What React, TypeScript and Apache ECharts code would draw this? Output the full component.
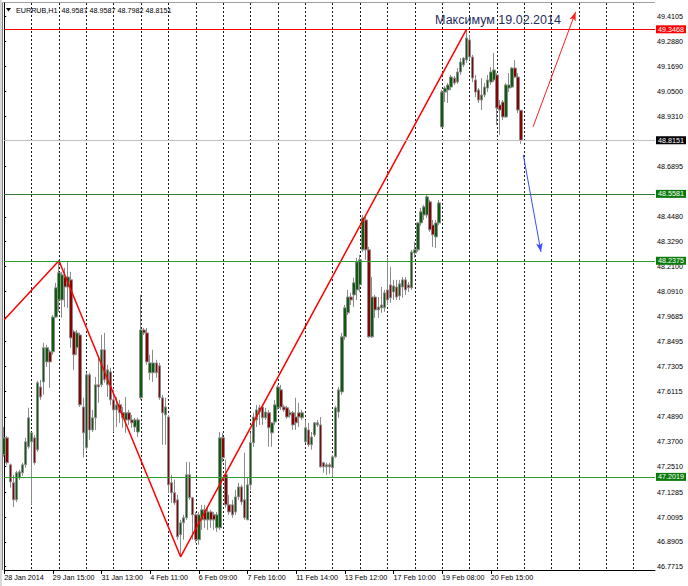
import React, { useEffect, useRef } from 'react';
import * as echarts from 'echarts';

// ---- data ----
const opens = [
  47.308, 47.389, 47.260, 47.174, 47.092, 47.198, 47.222, 47.260, 47.346, 47.370,
  47.389, 47.332, 47.633, 47.657, 47.753, 47.801, 47.801, 47.968, 48.050, 48.050,
  48.160, 48.112, 48.146, 47.897, 47.821, 47.882, 47.537, 47.342, 47.691, 47.427,
  47.485, 47.643, 47.643, 47.811, 47.643, 47.705, 47.571, 47.523, 47.547, 47.509,
  47.475, 47.509, 47.475, 47.441, 47.417, 47.581, 47.906, 47.892, 47.701, 47.701,
  47.748, 47.734, 47.581, 47.499, 47.489, 47.174, 47.126, 47.092, 46.925, 46.982,
  47.006, 47.212, 47.102, 47.020, 46.901, 46.996, 47.044, 46.996, 47.034, 47.020,
  46.958, 46.958, 47.389, 47.212, 47.068, 47.068, 47.034, 47.106, 47.154, 47.092,
  46.996, 47.164, 47.366, 47.475, 47.513, 47.537, 47.485, 47.509, 47.413, 47.465,
  47.533, 47.619, 47.537, 47.533, 47.499, 47.509, 47.489, 47.509, 47.485, 47.370,
  47.427, 47.356, 47.403, 47.451, 47.451, 47.270, 47.250, 47.260, 47.246, 47.298,
  47.513, 47.609, 47.873, 47.988, 48.064, 48.074, 48.098, 48.122, 48.290, 48.433,
  48.290, 47.873, 48.064, 48.002, 48.012, 48.012, 48.098, 48.122, 48.088, 48.112,
  48.069, 48.112, 48.146, 48.122, 48.108, 48.275, 48.290, 48.419, 48.457, 48.457,
  48.520, 48.409, 48.352, 48.419, 48.879, 49.046, 49.056, 49.070, 49.113, 49.094,
  49.142, 49.176, 49.200, 49.296, 49.214, 49.104, 49.056, 49.008, 49.032, 49.065,
  49.094, 49.104, 49.128, 48.984, 48.998, 48.927, 49.065, 49.070, 49.161, 49.118,
  48.9587,
];
const closes = [
  47.389, 47.270, 47.178, 47.092, 47.222, 47.226, 47.260, 47.370, 47.485, 47.413,
  47.270, 47.653, 47.585, 47.821, 47.821, 47.753, 47.968, 48.108, 48.180, 48.170,
  48.112, 48.160, 47.868, 47.787, 47.892, 47.547, 47.413, 47.691, 47.427, 47.485,
  47.643, 47.633, 47.811, 47.667, 47.715, 47.571, 47.523, 47.547, 47.509, 47.485,
  47.509, 47.475, 47.461, 47.475, 47.475, 47.906, 47.892, 47.753, 47.748, 47.748,
  47.701, 47.581, 47.509, 47.537, 47.164, 47.126, 47.078, 46.915, 46.982, 47.006,
  47.212, 47.102, 47.020, 46.901, 47.020, 47.044, 46.996, 47.034, 46.996, 46.996,
  47.020, 47.389, 47.294, 47.068, 47.034, 47.020, 47.106, 47.154, 47.082, 47.006,
  47.164, 47.366, 47.489, 47.523, 47.533, 47.485, 47.513, 47.437, 47.461, 47.547,
  47.633, 47.537, 47.523, 47.489, 47.509, 47.451, 47.461, 47.489, 47.509, 47.437,
  47.356, 47.393, 47.461, 47.461, 47.250, 47.250, 47.260, 47.250, 47.298, 47.533,
  47.619, 47.873, 48.012, 48.064, 48.050, 48.132, 48.232, 48.242, 48.443, 48.290,
  47.873, 48.064, 48.002, 48.016, 48.026, 48.084, 48.050, 48.060, 48.117, 48.064,
  48.127, 48.146, 48.098, 48.108, 48.280, 48.290, 48.419, 48.472, 48.496, 48.544,
  48.386, 48.362, 48.419, 48.515, 49.046, 49.065, 49.080, 49.118, 49.089, 49.142,
  49.190, 49.209, 49.305, 49.214, 49.113, 49.046, 49.008, 49.032, 49.070, 49.104,
  49.142, 49.152, 48.970, 48.960, 48.927, 49.080, 49.080, 49.161, 49.118, 48.960,
  48.8151,
];
const lows = [
  47.298, 47.260, 47.150, 47.058, 47.082, 47.188, 47.207, 47.246, 47.337, 47.068,
  47.260, 47.322, 47.571, 47.595, 47.729, 47.629, 47.787, 47.964, 47.993, 47.964,
  48.016, 48.012, 47.821, 47.715, 47.787, 47.537, 47.294, 47.332, 47.380, 47.417,
  47.427, 47.557, 47.633, 47.653, 47.585, 47.547, 47.417, 47.441, 47.461, 47.437,
  47.413, 47.451, 47.437, 47.417, 47.393, 47.571, 47.882, 47.739, 47.667, 47.657,
  47.677, 47.571, 47.356, 47.356, 47.126, 47.078, 47.068, 46.901, 46.819, 46.901,
  46.996, 47.092, 46.901, 46.886, 46.877, 46.948, 46.958, 46.948, 46.958, 46.948,
  46.938, 46.948, 47.274, 47.054, 47.020, 47.006, 47.020, 47.092, 47.068, 46.996,
  46.996, 47.140, 47.346, 47.441, 47.451, 47.451, 47.475, 47.346, 47.346, 47.451,
  47.523, 47.523, 47.513, 47.480, 47.485, 47.427, 47.427, 47.441, 47.475, 47.365,
  47.346, 47.332, 47.393, 47.441, 47.246, 47.222, 47.212, 47.217, 47.202, 47.294,
  47.485, 47.595, 47.859, 47.978, 48.026, 48.016, 48.050, 48.088, 48.280, 48.242,
  47.868, 47.868, 47.964, 47.964, 47.988, 47.993, 48.026, 48.036, 48.050, 48.050,
  48.050, 48.060, 48.074, 48.088, 48.098, 48.252, 48.280, 48.405, 48.433, 48.443,
  48.376, 48.304, 48.299, 48.409, 48.879, 48.998, 48.994, 49.056, 49.080, 49.085,
  49.128, 49.166, 49.185, 49.200, 49.094, 49.022, 48.994, 48.960, 49.022, 49.046,
  49.080, 49.094, 48.888, 48.840, 48.912, 48.922, 49.046, 49.065, 49.113, 48.946,
  48.7982,
];
const highs = [
  47.441, 47.398, 47.265, 47.212, 47.231, 47.236, 47.270, 47.389, 47.533, 47.417,
  47.403, 47.662, 47.667, 47.845, 47.835, 47.811, 47.978, 48.132, 48.2375, 48.184,
  48.204, 48.237, 48.184, 47.906, 47.906, 47.892, 47.581, 47.701, 47.701, 47.523,
  47.681, 47.773, 47.882, 47.892, 47.739, 47.725, 47.619, 47.585, 47.571, 47.537,
  47.585, 47.523, 47.499, 47.485, 47.485, 48.074, 47.916, 47.916, 47.787, 47.811,
  47.763, 47.748, 47.595, 47.581, 47.499, 47.212, 47.188, 47.116, 46.996, 47.020,
  47.274, 47.274, 47.106, 47.034, 47.034, 47.068, 47.068, 47.054, 47.044, 47.034,
  47.034, 47.417, 47.413, 47.284, 47.116, 47.092, 47.140, 47.174, 47.164, 47.318,
  47.198, 47.413, 47.509, 47.547, 47.547, 47.547, 47.533, 47.523, 47.465, 47.571,
  47.643, 47.643, 47.547, 47.542, 47.523, 47.518, 47.581, 47.557, 47.523, 47.475,
  47.461, 47.417, 47.465, 47.475, 47.489, 47.274, 47.270, 47.270, 47.308, 47.542,
  47.633, 47.892, 48.026, 48.098, 48.084, 48.156, 48.252, 48.266, 48.457, 48.448,
  48.304, 48.160, 48.074, 48.064, 48.112, 48.098, 48.252, 48.208, 48.146, 48.146,
  48.146, 48.160, 48.160, 48.136, 48.290, 48.328, 48.424, 48.491, 48.505, 48.553,
  48.529, 48.433, 48.433, 48.529, 49.056, 49.075, 49.089, 49.128, 49.123, 49.161,
  49.209, 49.214, 49.3468, 49.319, 49.224, 49.128, 49.065, 49.113, 49.089, 49.128,
  49.166, 49.233, 49.137, 49.008, 49.008, 49.089, 49.137, 49.166, 49.200, 49.137,
  48.9587,
];

const timeLabels = [
  '28 Jan 2014', '29 Jan 15:00', '31 Jan 13:00', '4 Feb 11:00', '6 Feb 09:00',
  '7 Feb 16:00', '11 Feb 14:00', '13 Feb 12:00', '17 Feb 10:00', '19 Feb 08:00',
  '20 Feb 15:00',
];
// price-scale labels visible in the picture (those hidden under the level boxes are left out)
const yTickValues = [
  49.4105, 49.288, 49.169, 49.05, 48.931, 48.6895, 48.448,
  48.329, 48.21, 48.091, 47.9685, 47.8495, 47.7305, 47.6115, 47.489, 47.37,
  47.251, 47.1285, 47.0095, 46.8905, 46.7715,
];
const levelValues = [49.3468, 48.8151, 48.5581, 48.2375, 47.2019];
const zigzagBars = [0, 18, 58, 152];
const zigzagPrices = [47.955, 48.2375, 46.819, 49.3468];
const upArrowBars = [173.9, 187.9];
const upArrowPrices = [48.879, 49.43];
const downArrowBars = [170.7, 176.5];
const downArrowPrices = [48.745, 48.28];
const symbolName = 'EURRUB,H1';
const lastQuote = ['48.9587', '48.9587', '48.7982', '48.8151'];
const annotation = 'Максимум 19.02.2014';

// ---- layout / style ----
const BAR_SLOTS = 215;
const LABEL_STEP = 16;
const GRID_STEP = 9;
const Y_MIN = 46.7557;
const Y_MAX = 49.4728;
const FONT = 'Liberation Sans, Arial, sans-serif';
const levelLineColors = ['#ff0000', '#c0c0c0', '#3a7a3a', '#2e9e2e', '#2e9e2e'];
const levelBoxColors = ['#ff0000', '#000000', '#0a7a0a', '#0a7a0a', '#0a7a0a'];

export default function App() {
  const ref = useRef<HTMLDivElement>(null);

  useEffect(() => {
    if (!ref.current) return;
    const chart = echarts.init(ref.current, null, { renderer: 'svg' });

    const isLabel = (i: number) => i % LABEL_STEP === 0 && i / LABEL_STEP < timeLabels.length;
    const categories = Array.from({ length: BAR_SLOTS }, (_, i) =>
      isLabel(i) ? timeLabels[i / LABEL_STEP] : 'b' + i
    );
    const candles = opens.map((o, i) => [o, closes[i], lows[i], highs[i]]);

    chart.setOption({
      animation: false,
      backgroundColor: '#ffffff',
      grid: { left: 4.2, right: 33, top: 3, bottom: 16, containLabel: false },
      xAxis: [
        {
          type: 'category',
          data: categories,
          boundaryGap: false,
          axisLine: { show: true, lineStyle: { color: '#000', width: 1 } },
          axisTick: {
            show: true,
            interval: (i: number) => isLabel(i),
            length: 4,
            lineStyle: { color: '#000' },
          },
          axisLabel: {
            interval: (i: number) => isLabel(i),
            align: 'left',
            margin: 4,
            fontSize: 7.2,
            fontFamily: FONT,
            color: '#000',
          },
          splitLine: {
            show: true,
            interval: (i: number) => i > 0 && i % GRID_STEP === 0,
            lineStyle: { color: '#1a1a1a', width: 1, type: [2, 2] },
          },
        },
        { type: 'value', min: 0, max: BAR_SLOTS - 1, show: false },
      ],
      yAxis: {
        type: 'value',
        position: 'right',
        min: Y_MIN,
        max: Y_MAX,
        scale: true,
        axisLine: { show: true, lineStyle: { color: '#000', width: 1 } },
        axisTick: { show: true, length: 2, customValues: yTickValues, lineStyle: { color: '#000' } },
        axisLabel: {
          customValues: yTickValues,
          formatter: (v: number) => Number(v).toFixed(4),
          margin: 2,
          fontSize: 7.2,
          fontFamily: FONT,
          color: '#000',
        },
        splitLine: { show: false },
      },
      series: [
        {
          type: 'candlestick',
          xAxisIndex: 0,
          yAxisIndex: 0,
          data: candles,
          barWidth: 3,
          clip: false,
          silent: true,
          itemStyle: {
            color: '#0b5d0b',
            color0: '#8b0000',
            borderColor: '#8c8c8c',
            borderColor0: '#8c8c8c',
            borderWidth: 1,
          },
          markLine: {
            silent: true,
            symbol: ['none', 'none'],
            animation: false,
            precision: 4,
            label: {
              show: true,
              position: 'end',
              distance: 1,
              color: '#ffffff',
              fontSize: 7.2,
              fontFamily: FONT,
              padding: [1, 2, 0, 2],
            },
            data: levelValues.map((v, k) => ({
              yAxis: v,
              lineStyle: { color: levelLineColors[k], width: 1, type: 'solid' },
              label: { backgroundColor: levelBoxColors[k], formatter: v.toFixed(4) },
            })),
          },
        },
        {
          type: 'line',
          xAxisIndex: 1,
          yAxisIndex: 0,
          data: zigzagBars.map((b, k) => [b, zigzagPrices[k]]),
          symbol: 'none',
          clip: false,
          silent: true,
          z: 4,
          lineStyle: { color: '#ff0000', width: 1.5 },
          markLine: {
            silent: true,
            symbol: ['none', 'arrow'],
            symbolSize: [5, 9],
            animation: false,
            label: { show: false },
            data: [
              [
                { coord: [upArrowBars[0], upArrowPrices[0]], lineStyle: { color: '#ff2020', width: 1, type: 'solid' } },
                { coord: [upArrowBars[1], upArrowPrices[1]] },
              ],
              [
                { coord: [downArrowBars[0], downArrowPrices[0]], lineStyle: { color: '#3a4cff', width: 1, type: 'solid' } },
                { coord: [downArrowBars[1], downArrowPrices[1]] },
              ],
            ],
          },
        },
      ],
      graphic: [
        { type: 'rect', shape: { x: 0, y: 0, width: 2, height: 586 }, style: { fill: '#d8d8d8' }, silent: true },
        { type: 'line', shape: { x1: 2.5, y1: 2.5, x2: 2.5, y2: 570 }, style: { stroke: '#808080', lineWidth: 1 }, silent: true },
        { type: 'line', shape: { x1: 2.5, y1: 2.5, x2: 655, y2: 2.5 }, style: { stroke: '#a0a0a0', lineWidth: 1 }, silent: true },
        { type: 'polygon', shape: { points: [[6, 8], [11, 8], [8.5, 11.5]] }, style: { fill: '#000' }, silent: true },
        {
          type: 'text',
          x: 16,
          y: 10,
          silent: true,
          style: {
            text: symbolName + '  ' + lastQuote.join(' '),
            font: '7.2px ' + FONT,
            fill: '#000',
            textVerticalAlign: 'middle',
          },
        },
        {
          type: 'text',
          x: 498,
          y: 20,
          silent: true,
          z: 10,
          style: {
            text: annotation,
            font: '12.5px ' + FONT,
            fill: '#1f2f5f',
            textAlign: 'center',
            textVerticalAlign: 'middle',
          },
        },
      ],
    });

    return () => chart.dispose();
  }, []);

  return (
    <div
      ref={ref}
      style={{ position: 'fixed', left: 0, top: 0, width: 688, height: 586, background: '#fff' }}
    />
  );
}
